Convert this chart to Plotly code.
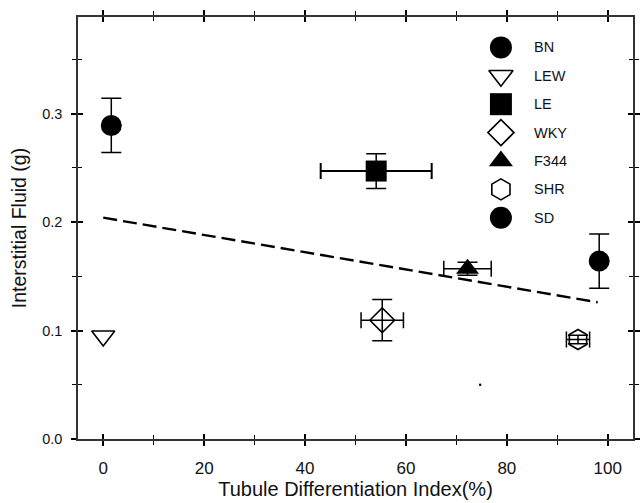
import plotly.graph_objects as go

# ---- data ----
strains = ["BN", "LEW", "LE", "WKY", "F344", "SHR", "SD"]
tdi = [1.6, 0.0, 54.1, 55.3, 72.2, 94.1, 98.3]            # Tubule Differentiation Index (%)
fluid = [0.289, 0.095, 0.247, 0.1095, 0.157, 0.0917, 0.164]  # Interstitial fluid (g)
err_x = [0.0, 0.0, 11.0, 4.2, 4.7, 2.3, 0.0]
err_y = [0.025, 0.0, 0.016, 0.019, 0.006, 0.004, 0.025]
symbols = ["circle", "triangle-down-open", "square", "diamond-open",
           "triangle-up", "hexagon-open", "circle"]
sizes = [21, 20, 21, 19, 20, 20, 21]

fit_x = [0.0, 98.0]
fit_y = [0.204, 0.126]

stray_x = [74.7]
stray_y = [0.050]

x_ticks = [0, 20, 40, 60, 80, 100]
y_ticks = [0.0, 0.1, 0.2, 0.3]

FONT = "Liberation Sans, Arial, sans-serif"
INK = "#111111"

fig = go.Figure()

# regression dashed line
fig.add_trace(go.Scatter(x=fit_x, y=fit_y, mode="lines",
                         line=dict(color="black", width=2.4, dash="14px,6px"),
                         showlegend=False, hoverinfo="skip"))

for i, name in enumerate(strains):
    has_ex = err_x[i] > 0
    has_ey = err_y[i] > 0
    open_sym = symbols[i].endswith("-open")
    fig.add_trace(go.Scatter(
        x=[tdi[i]], y=[fluid[i]], mode="markers", name=name, showlegend=False,
        marker=dict(symbol=symbols[i], size=sizes[i], color="black",
                    line=dict(color="black", width=1.6 if open_sym else 0)),
        error_x=dict(type="data", array=[err_x[i]], visible=has_ex,
                     color="black", thickness=2.0 if i == 2 else 1.5, width=8),
        error_y=dict(type="data", array=[err_y[i]], visible=has_ey,
                     color="black", thickness=1.5, width=10),
    ))

fig.add_trace(go.Scatter(x=stray_x, y=stray_y, mode="markers",
                         marker=dict(size=2.5, color="black"),
                         showlegend=False, hoverinfo="skip"))

# ---- custom legend (larger symbols than plotly's legend allows) ----
leg_mx = 0.762
leg_tx = 0.818
leg_top = 0.928
leg_step = 0.0673
for i, name in enumerate(strains):
    yy = leg_top - i * leg_step
    open_sym = symbols[i].endswith("-open")
    fig.add_trace(go.Scatter(
        x=[leg_mx], y=[yy], xaxis="x2", yaxis="y2", mode="markers",
        marker=dict(symbol=symbols[i], size=sizes[i] + 1, color="black",
                    line=dict(color="black", width=1.6 if open_sym else 0)),
        showlegend=False, hoverinfo="skip"))
    fig.add_annotation(x=leg_tx, y=yy, xref="x2", yref="y2", text=name,
                       showarrow=False, xanchor="left", yanchor="middle",
                       font=dict(family=FONT, size=14.5, color=INK))

axis_common = dict(showgrid=False, zeroline=False, color=INK)

fig.update_layout(
    width=644, height=503,
    margin=dict(l=78, r=4, t=17, b=64),
    paper_bgcolor="white", plot_bgcolor="white",
    font=dict(family=FONT, color=INK),
    showlegend=False,
    xaxis=dict(**axis_common, range=[-5, 105], tickvals=x_ticks,
               ticks="outside", ticklen=5, tickwidth=2, tickcolor="black",
               showline=True, linecolor="#333333", linewidth=1.6, mirror="ticks",
               minor=dict(dtick=10, tick0=0, ticks="outside", ticklen=4,
                          tickwidth=1, tickcolor="black"),
               tickfont=dict(size=17, color=INK), ticklabelstandoff=8,
               title=dict(text="Tubule Differentiation Index(%)",
                          font=dict(size=20, color=INK), standoff=4)),
    yaxis=dict(**axis_common, range=[0, 0.389], tickvals=y_ticks,
               tickformat=".1f",
               ticks="outside", ticklen=5, tickwidth=2, tickcolor="black",
               showline=True, linecolor="#333333", linewidth=1.6, mirror="ticks",
               minor=dict(dtick=0.05, tick0=0, ticks="outside", ticklen=4,
                          tickwidth=1, tickcolor="black"),
               tickfont=dict(size=14.5, color=INK), ticklabelstandoff=6,
               title=dict(text="Interstitial Fluid (g)",
                          font=dict(size=19.5, color=INK), standoff=10)),
    xaxis3=dict(**axis_common, overlaying="x", matches="x", tickvals=x_ticks,
                ticks="inside", ticklen=5, tickwidth=2, tickcolor="black",
                mirror="ticks", showticklabels=False,
                minor=dict(dtick=10, tick0=0, ticks="inside", ticklen=4,
                           tickwidth=1, tickcolor="black")),
    yaxis3=dict(**axis_common, overlaying="y", matches="y", tickvals=y_ticks,
                ticks="inside", ticklen=5, tickwidth=2, tickcolor="black",
                mirror="ticks", showticklabels=False,
                minor=dict(dtick=0.05, tick0=0, ticks="inside", ticklen=4,
                           tickwidth=1, tickcolor="black")),
    xaxis2=dict(overlaying="x", range=[0, 1], visible=False, fixedrange=True),
    yaxis2=dict(overlaying="y", range=[0, 1], visible=False, fixedrange=True),
)

# invisible trace to instantiate the inside-tick overlay axes
fig.add_trace(go.Scatter(x=[fit_x[0]], y=[fit_y[0]], xaxis="x3", yaxis="y3",
                         mode="markers", marker=dict(opacity=0),
                         showlegend=False, hoverinfo="skip"))

fig.write_html("out.html")
